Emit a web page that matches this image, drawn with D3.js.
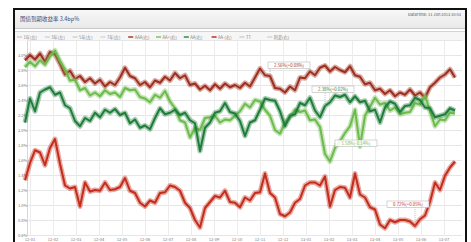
<!DOCTYPE html>
<html>
<head>
<meta charset="utf-8">
<script src="https://cdn.jsdelivr.net/npm/d3@7"></script>
<style>
  html, body { margin: 0; padding: 0; background: #fff; }
  svg { display: block; font-family: "Noto Sans CJK SC", "DejaVu Sans", sans-serif; }
</style>
</head>
<body>
<svg id="chart" width="471" height="242"></svg>
<script>
// weekly samples (yield, %)
var topRed = [2.93, 3.00, 2.94, 3.02, 2.91, 3.04, 3.01, 2.88, 2.74, 2.79,
  2.68, 2.72, 2.64, 2.69, 2.62, 2.67, 2.58, 2.64, 2.60, 2.70,
  2.83, 2.72, 2.69, 2.60, 2.64, 2.57, 2.66, 2.63, 2.71, 2.66,
  2.76, 2.69, 2.73, 2.60, 2.62, 2.54, 2.59, 2.53, 2.61, 2.55,
  2.62, 2.57, 2.60, 2.56, 2.63, 2.58, 2.70, 2.82, 2.73, 2.72,
  2.56, 2.55, 2.50, 2.58, 2.53, 2.70, 2.69, 2.78, 2.73, 2.83,
  2.86, 2.78, 2.84, 2.80, 2.77, 2.85, 2.73, 2.71, 2.61, 2.63,
  2.53, 2.55, 2.48, 2.53, 2.45, 2.50, 2.47, 2.54, 2.46, 2.50,
  2.43, 2.57, 2.63, 2.70, 2.74, 2.81, 2.70];
var lightGreen = [2.84, 2.91, 2.85, 2.93, 2.87, 2.98, 3.06, 2.92, 2.81, 2.66,
  2.67, 2.53, 2.56, 2.46, 2.50, 2.45, 2.53, 2.48, 2.50, 2.44,
  2.56, 2.53, 2.54, 2.44, 2.42, 2.37, 2.47, 2.43, 2.52, 2.38,
  2.29, 2.13, 2.10, 1.90, 2.03, 2.00, 2.16, 2.17, 2.19, 2.10,
  2.14, 2.13, 2.19, 2.25, 2.35, 2.30, 2.40, 2.38, 2.27, 2.19,
  2.00, 1.95, 2.10, 2.17, 2.27, 2.24, 2.26, 2.13, 2.14, 2.04,
  1.68, 1.58, 1.76, 1.85, 1.96, 2.05, 2.27, 1.78, 2.19, 2.31,
  2.43, 2.34, 2.36, 2.26, 2.30, 2.21, 2.23, 2.24, 2.36, 2.34,
  2.46, 2.25, 2.05, 2.14, 2.13, 2.23, 2.22];
var darkGreen = [2.10, 2.42, 2.25, 2.50, 2.54, 2.57, 2.47, 2.50, 2.33, 2.29,
  2.12, 2.05, 2.16, 2.12, 2.23, 2.17, 2.27, 2.23, 2.28, 2.20,
  2.23, 2.09, 2.14, 2.03, 2.06, 2.01, 2.16, 2.29, 2.21, 2.23,
  2.27, 2.20, 2.23, 2.13, 2.09, 1.72, 2.03, 2.10, 2.23, 2.25,
  2.36, 2.24, 2.22, 2.12, 1.92, 2.10, 2.13, 2.27, 2.42, 2.40,
  2.39, 2.25, 2.05, 2.19, 2.21, 2.36, 2.33, 2.43, 2.26, 2.17,
  2.32, 2.37, 2.46, 2.44, 2.47, 2.37, 2.45, 2.37, 2.39, 2.25,
  2.27, 2.10, 2.30, 2.38, 2.35, 2.24, 2.32, 2.33, 2.43, 2.40,
  2.30, 2.29, 2.17, 2.19, 2.21, 2.29, 2.26];
var bottomRed = [1.33, 1.56, 1.73, 1.70, 1.53, 1.76, 1.88, 1.55, 1.26, 1.22,
  1.24, 0.98, 1.30, 1.18, 1.20, 1.19, 1.30, 1.20, 1.21, 1.24,
  1.36, 1.19, 1.16, 1.03, 0.98, 1.06, 1.03, 1.16, 1.17, 1.26,
  1.24, 1.19, 1.03, 0.96, 0.80, 0.70, 0.96, 1.04, 1.12, 1.10,
  1.19, 1.04, 1.03, 0.97, 1.10, 1.06, 1.16, 1.17, 1.42, 1.16,
  1.10, 0.88, 0.85, 0.90, 1.03, 1.08, 1.26, 1.30, 1.30, 1.26,
  1.38, 0.98, 1.20, 1.24, 1.23, 1.10, 1.42, 1.14, 1.10, 0.97,
  0.94, 0.74, 0.69, 0.80, 0.77, 0.80, 0.80, 0.78, 0.72, 0.81,
  0.86, 1.04, 1.30, 1.20, 1.39, 1.50, 1.58];

var yTicks = [0.6, 0.8, 1.0, 1.2, 1.4, 1.6, 1.8, 2.0, 2.2, 2.4, 2.6, 2.8, 3.0, 3.2];
var xTickLabels = ["12-01", "12-02", "12-03", "12-04", "12-05", "12-06", "12-07",
  "12-08", "12-09", "12-10", "12-11", "12-12", "13-01", "13-02", "13-03",
  "13-04", "13-05", "13-06", "13-07"];
var legendLabels = ["1年(左)", "3年(左)", "5年(左)", "7年(左)", "AAA(右)",
  "AA+(右)", "AA(右)", "AA-(右)", "TT", "利差(右)"];
var legendColors = ["#d9c9c9", "#d5d5d5", "#d5d0d0", "#d8d8d8", "#a33a28",
  "#7cc45c", "#2e8c45", "#b83224", "#cfcfcf", "#d6d6d6"];
// callouts: series index, sample index, text
var callouts = [
  { s: 0, i: 49, text: "2.56%(+0.08%)" },
  { s: 2, i: 60, text: "2.38%(+0.02%)" },
  { s: 1, i: 62, text: "1.58%(-0.14%)" },
  { s: 3, i: 78, text: "0.72%(+0.05%)" }
];

var seriesList = [
  { name: "topRed", values: topRed, color: "#9e2f1f" },
  { name: "lightGreen", values: lightGreen, color: "#6dbb4c" },
  { name: "darkGreen", values: darkGreen, color: "#1f7d3a" },
  { name: "bottomRed", values: bottomRed, color: "#c42c1c" }
];

var svg = d3.select("#chart");

// frame + title bar
var defs = svg.append("defs");
var grad = defs.append("linearGradient").attr("id", "bar").attr("x1", 0).attr("x2", 0).attr("y1", 0).attr("y2", 1);
grad.append("stop").attr("offset", "0%").attr("stop-color", "#f7f7f7");
grad.append("stop").attr("offset", "100%").attr("stop-color", "#e9e9e9");

svg.append("rect").attr("x", 15).attr("y", 10).attr("width", 450).attr("height", 18).attr("fill", "url(#bar)");
svg.append("line").attr("x1", 15).attr("x2", 465).attr("y1", 28.5).attr("y2", 28.5).attr("stroke", "#c8c8c8");
svg.append("line").attr("x1", 15).attr("x2", 465).attr("y1", 31.5).attr("y2", 31.5).attr("stroke", "#d4d4d4");
svg.append("rect").attr("x", 15).attr("y", 32).attr("width", 450).attr("height", 9).attr("fill", "#f6f6f6");

svg.append("text").attr("x", 20).attr("y", 21).attr("font-size", 5.5).attr("fill", "#3a4a7a")
  .text("国债到期收益率 3.4bp%");
svg.append("text").attr("x", 461).attr("y", 16).attr("font-size", 4).attr("fill", "#555")
  .attr("text-anchor", "end").text("DataTime: 11 Jun 2013 10:53");

// legend
var leg = svg.append("g").selectAll("g").data(legendLabels).enter().append("g")
  .attr("transform", function(d, i) { return "translate(" + (17 + i * 27.8) + ",37)"; });
leg.append("line").attr("x1", 0).attr("x2", 5).attr("y1", 0).attr("y2", 0)
  .attr("stroke", function(d, i) { return legendColors[i]; }).attr("stroke-width", 1.5);
leg.append("text").attr("x", 6.5).attr("y", 1.5).attr("font-size", 4.2).attr("fill", "#888")
  .text(function(d) { return d; });

// scales
var x = d3.scaleLinear().domain([0, topRed.length - 1]).range([25, 455]);
var y = d3.scaleLinear().domain([0.6, 3.2]).range([235, 40]);
var xTickPos = xTickLabels.map(function(d, i) { return x(1 + i * 4.6); });

// grid
var grid = svg.append("g");
grid.selectAll("line.h").data(yTicks).enter().append("line")
  .attr("x1", 27).attr("x2", 462)
  .attr("y1", function(d) { return Math.round(y(d)) + 0.5; })
  .attr("y2", function(d) { return Math.round(y(d)) + 0.5; })
  .attr("stroke", "#e6e6e6").attr("stroke-width", 1);
grid.selectAll("line.v").data(xTickPos).enter().append("line")
  .attr("x1", function(d) { return Math.round(d) + 0.5; })
  .attr("x2", function(d) { return Math.round(d) + 0.5; })
  .attr("y1", 41).attr("y2", 236)
  .attr("stroke", "#ececec").attr("stroke-width", 1);
grid.append("line").attr("x1", 27.5).attr("x2", 27.5).attr("y1", 41).attr("y2", 236)
  .attr("stroke", "#d8d8d8");

// y labels
svg.append("g").selectAll("text").data(yTicks.slice(0, 13)).enter().append("text")
  .attr("x", 18).attr("y", function(d) { return y(d) + 1.5; })
  .attr("font-size", 4).attr("fill", "#777")
  .text(function(d) { return d.toFixed(1) + "%"; });

// x labels
svg.append("g").selectAll("text").data(xTickLabels).enter().append("text")
  .attr("x", function(d, i) { return xTickPos[i]; }).attr("y", 240.5)
  .attr("font-size", 4).attr("fill", "#777").attr("text-anchor", "middle")
  .text(function(d) { return d; });

// series: a soft wide band under a sharper core line
var line = d3.line()
  .x(function(d, i) { return x(i); })
  .y(function(d) { return y(d); });

var lines = svg.append("g").selectAll("g").data(seriesList).enter().append("g");
lines.append("path")
  .attr("d", function(s) { return line(s.values); })
  .attr("fill", "none").attr("stroke", function(s) { return s.color; })
  .attr("stroke-opacity", 0.4).attr("stroke-width", 5).attr("stroke-linejoin", "round");
lines.append("path")
  .attr("d", function(s) { return line(s.values); })
  .attr("fill", "none").attr("stroke", function(s) { return s.color; })
  .attr("stroke-width", 2).attr("stroke-linejoin", "round");

// callout boxes
var boxes = svg.append("g").selectAll("g").data(callouts).enter().append("g");
var boxOffset = [[-2, -14], [-13, -20], [0, -8], [-28, -25]];
boxes.each(function(c, k) {
  var g = d3.select(this);
  var s = seriesList[c.s];
  var px = x(c.i), py = y(s.values[c.i]);
  var bx = px + boxOffset[k][0], by = py + boxOffset[k][1];
  g.append("line").attr("x1", px).attr("x2", px).attr("y1", py).attr("y2", by + 3)
    .attr("stroke", "#999").attr("stroke-width", 0.6).attr("stroke-dasharray", "1,1");
  g.append("rect").attr("x", bx).attr("y", by).attr("width", 42).attr("height", 6.5)
    .attr("fill", "#fff").attr("fill-opacity", 0.9).attr("stroke", "#aaa").attr("stroke-width", 0.5);
  g.append("text").attr("x", bx + 21).attr("y", by + 5).attr("text-anchor", "middle")
    .attr("font-size", 4.3).attr("fill", s.color).text(c.text);
});

// outer frame
svg.append("rect").attr("x", 14).attr("y", 9).attr("width", 452).attr("height", 240)
  .attr("fill", "none").attr("stroke", "#111").attr("stroke-width", 2);
</script>
</body>
</html>
